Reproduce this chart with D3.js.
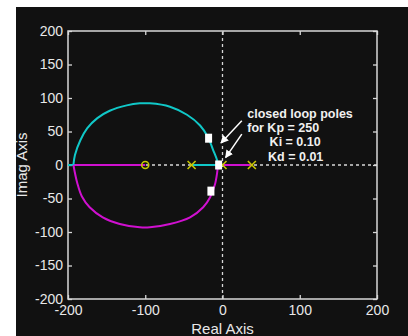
<!DOCTYPE html>
<html>
<head>
<meta charset="utf-8">
<script src="https://cdn.jsdelivr.net/npm/d3@7"></script>
<style>
  body { margin: 0; background: #fff; }
  text { font-family: "Liberation Sans", Arial, sans-serif; }
</style>
</head>
<body>
<div id="chart"></div>
<script>
// tick values
const xTicks = [-200, -100, 0, 100, 200];
const yTicks = [-200, -150, -100, -50, 0, 50, 100, 150, 200];

// root locus branches (real, imag)
const cyanArc = [[-6, 0], [-7, 7], [-12, 22], [-19, 42], [-29, 59], [-46, 75], [-68, 87], [-94, 92],
  [-107, 92], [-124, 89], [-146, 81], [-162, 70], [-175, 55], [-184, 37], [-191, 15], [-193, 0]];
const magentaArc = [[-6, 0], [-7, -12], [-10, -30], [-16, -48], [-25, -63], [-42, -78], [-68, -88], [-94, -93],
  [-107, -93], [-133, -88], [-155, -78], [-172, -63], [-182, -47], [-188, -27], [-193, 0]];

// real-axis segments of each branch
const cyanReal = [[[-200, 0], [-193, 0]], [[-40, 0], [-6, 0]]];
const magentaReal = [[[-193, 0], [-100, 0]], [[0, 0], [38, 0]]];

// open loop poles / zeros and closed loop poles
const openPoles = [-40, 0, 38];
const openZeros = [-100];
const closedPoles = [[-18, 40], [-15, -39], [-5, 0]];

const noteLines = ['closed loop poles', 'for Kp = 250', 'Ki = 0.10', 'Kd = 0.01'];

const W = 408, H = 336;
const margin = {t: 31, r: 31, b: 37, l: 68};

const svg = d3.select('#chart').append('svg')
    .attr('width', W)
    .attr('height', H);

// dark figure panel
svg.append('rect').attr('x', 16).attr('y', 7).attr('width', W - 16).attr('height', H - 7)
    .attr('fill', '#111111');

const x = d3.scaleLinear().domain([-200, 200]).range([margin.l, W - margin.r]);
const y = d3.scaleLinear().domain([-200, 200]).range([H - margin.b, margin.t]);

const fg = '#d8d8d8';
const fmt = d => String(d);

// dotted zero lines
svg.append('line')
    .attr('x1', x(-200)).attr('x2', x(200)).attr('y1', y(0)).attr('y2', y(0))
    .attr('stroke', fg).attr('stroke-width', 1.3).attr('stroke-dasharray', '3,3');
svg.append('line')
    .attr('x1', x(0)).attr('x2', x(0)).attr('y1', y(-200)).attr('y2', y(200))
    .attr('stroke', fg).attr('stroke-width', 1.3).attr('stroke-dasharray', '3,3');

// axes
const gx = svg.append('g').attr('transform', `translate(0,${y(-200)})`)
    .call(d3.axisBottom(x).tickValues(xTicks).tickFormat(fmt).tickSizeInner(-4).tickSizeOuter(0).tickPadding(6));
const gy = svg.append('g').attr('transform', `translate(${x(-200)},0)`)
    .call(d3.axisLeft(y).tickValues(yTicks).tickFormat(fmt).tickSizeInner(-4).tickSizeOuter(0).tickPadding(5));
const gt = svg.append('g').attr('transform', `translate(0,${y(200)})`)
    .call(d3.axisTop(x).tickValues(xTicks).tickSizeInner(-4).tickSizeOuter(0).tickFormat(''));
const gr = svg.append('g').attr('transform', `translate(${x(200)},0)`)
    .call(d3.axisRight(y).tickValues(yTicks).tickSizeInner(-4).tickSizeOuter(0).tickFormat(''));

[gx, gy, gt, gr].forEach(g => {
    g.select('.domain').remove();
    g.selectAll('line').attr('stroke', fg).attr('stroke-width', 1.3);
    g.selectAll('text').attr('fill', '#e8e8e8').style('font-size', '14px')
        .style('font-family', '"Liberation Sans", Arial, sans-serif');
});

// plot box
svg.append('rect')
    .attr('x', x(-200)).attr('y', y(200))
    .attr('width', x(200) - x(-200)).attr('height', y(-200) - y(200))
    .attr('fill', 'none').attr('stroke', fg).attr('stroke-width', 1.5);

const line = d3.line().x(d => x(d[0])).y(d => y(d[1]));
const curve = d3.line().x(d => x(d[0])).y(d => y(d[1])).curve(d3.curveCatmullRom);

const cyan = '#10c8c8', magenta = '#d010d0', yellow = '#c8c800';

cyanReal.forEach(s => svg.append('path').attr('d', line(s))
    .attr('stroke', cyan).attr('stroke-width', 2).attr('fill', 'none'));
magentaReal.forEach(s => svg.append('path').attr('d', line(s))
    .attr('stroke', magenta).attr('stroke-width', 2).attr('fill', 'none'));

svg.append('path').attr('d', curve(cyanArc))
    .attr('stroke', cyan).attr('stroke-width', 2).attr('fill', 'none');
svg.append('path').attr('d', curve(magentaArc))
    .attr('stroke', magenta).attr('stroke-width', 2).attr('fill', 'none');

// open loop zeros
svg.selectAll('.zero').data(openZeros).enter().append('circle')
    .attr('cx', d => x(d)).attr('cy', y(0)).attr('r', 3.5)
    .attr('fill', 'none').attr('stroke', yellow).attr('stroke-width', 1.6);

// open loop poles
const px = svg.selectAll('.pole').data(openPoles).enter().append('g')
    .attr('transform', d => `translate(${x(d)},${y(0)})`);
px.append('path').attr('d', 'M-4,-4L4,4M-4,4L4,-4')
    .attr('stroke', yellow).attr('stroke-width', 1.6);

// closed loop poles
svg.selectAll('.cl').data(closedPoles).enter().append('rect')
    .attr('x', d => x(d[0]) - 3.5).attr('y', d => y(d[1]) - 4.5)
    .attr('width', 7).attr('height', 9).attr('fill', '#fff');

// annotation
svg.append('defs').append('marker')
    .attr('id', 'ah').attr('viewBox', '0 0 10 10').attr('refX', 9).attr('refY', 5)
    .attr('markerWidth', 8).attr('markerHeight', 8).attr('markerUnits', 'userSpaceOnUse')
    .attr('orient', 'auto')
    .append('path').attr('d', 'M0,0L10,5L0,10Z').attr('fill', '#fff');

[[[25, 66], [-2, 33]], [[25, 46], [4, 11]]].forEach(a => {
    svg.append('line')
        .attr('x1', x(a[0][0])).attr('y1', y(a[0][1]))
        .attr('x2', x(a[1][0])).attr('y2', y(a[1][1]))
        .attr('stroke', '#fff').attr('stroke-width', 1.5).attr('marker-end', 'url(#ah)');
});

const noteX = [x(32), x(32), x(61), x(59)];
const noteY = [118, 132, 146, 161];
svg.selectAll('.note').data(noteLines).enter().append('text')
    .attr('x', (d, i) => noteX[i]).attr('y', (d, i) => noteY[i])
    .attr('fill', '#f0f0f0').style('font-size', '12.5px').style('font-weight', 'bold')
    .text(d => d);

// axis titles
svg.append('text').attr('x', x(0)).attr('y', 334).attr('text-anchor', 'middle')
    .attr('fill', '#e8e8e8').style('font-size', '15px').text('Real Axis');
svg.append('text').attr('transform', `translate(27,${y(0)}) rotate(-90)`).attr('text-anchor', 'middle')
    .attr('fill', '#e8e8e8').style('font-size', '15px').text('Imag Axis');
</script>
</body>
</html>
